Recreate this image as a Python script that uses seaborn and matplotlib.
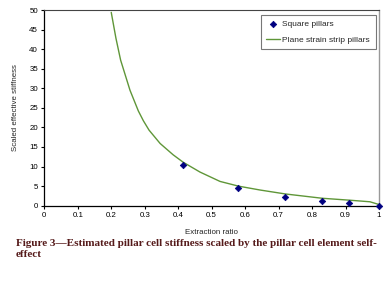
import matplotlib
matplotlib.use("Agg")
import matplotlib.pyplot as plt
import seaborn as sns
import pandas as pd

# Data
square_x = [0.413, 0.58, 0.719, 0.829, 0.911, 1.0]
square_y = [10.4, 4.4, 2.2, 1.2, 0.7, 0.0]

strip_x = [0.2, 0.214, 0.228, 0.256, 0.281, 0.296, 0.313, 0.346, 0.385, 0.415,
           0.465, 0.525, 0.58, 0.645, 0.72, 0.83, 0.913, 0.973, 1.0]
strip_y = [49.4, 42.8, 37.2, 29.5, 24.2, 21.7, 19.3, 15.9, 13.0, 11.1,
           8.6, 6.2, 5.0, 4.0, 3.0, 1.9, 1.4, 1.0, 0.3]

x_ticks = [0, 0.1, 0.2, 0.3, 0.4, 0.5, 0.6, 0.7, 0.8, 0.9, 1]
x_labels = ["0", "0.1", "0.2", "0.3", "0.4", "0.5", "0.6", "0.7", "0.8", "0.9", "1"]
y_ticks = [0, 5, 10, 15, 20, 25, 30, 35, 40, 45, 50]

sns.set_style("white")
plt.rcParams['font.family'] = ['Liberation Sans', 'DejaVu Sans']

df_sq = pd.DataFrame({"x": square_x, "y": square_y})
df_st = pd.DataFrame({"x": strip_x, "y": strip_y})

fig = plt.figure(figsize=(3.9, 2.82), dpi=100)
ax = fig.add_axes([0.1136, 0.2706, 0.8582, 0.6939])

sns.lineplot(data=df_st, x="x", y="y", ax=ax, color="#5f9638", linewidth=1.0,
             sort=False, label="Plane strain strip pillars", zorder=2)
sns.scatterplot(data=df_sq, x="x", y="y", ax=ax, color="#000080", marker="D",
                s=11, edgecolor="#000080", linewidth=0.5,
                label="Square pillars", zorder=3, clip_on=False)

ax.set_xlim(0, 1)
ax.set_ylim(0, 50)
ax.set_xticks(x_ticks)
ax.set_xticklabels(x_labels)
ax.set_yticks(y_ticks)
ax.tick_params(axis="both", labelsize=5.7, length=2.5, width=0.8,
               direction="out", colors="black", pad=2,
               bottom=True, left=True)
ax.set_xlabel("Extraction ratio", fontsize=5.7, labelpad=7)
ax.set_ylabel("Scaled effective stiffness", fontsize=5.7, labelpad=7)

for side in ["left", "bottom"]:
    ax.spines[side].set_color("black")
    ax.spines[side].set_linewidth(0.9)
ax.spines["top"].set_color("#444444")
ax.spines["top"].set_linewidth(0.8)
ax.spines["right"].set_color("#999999")
ax.spines["right"].set_linewidth(1.0)

handles, labels = ax.get_legend_handles_labels()
order = [labels.index("Square pillars"), labels.index("Plane strain strip pillars")]
leg = ax.legend([handles[i] for i in order], [labels[i] for i in order],
                loc="upper right", bbox_to_anchor=(0.995, 0.985),
                fontsize=6, frameon=True, fancybox=False,
                borderpad=0.7, handlelength=1.6, handletextpad=0.3,
                labelspacing=0.9, borderaxespad=0.2)
leg.get_frame().set_edgecolor("#555555")
leg.get_frame().set_linewidth(0.8)

fig.text(0.04, 0.152,
         "Figure 3\u2014Estimated pillar cell stiffness scaled by the pillar cell element self-\neffect",
         fontsize=8, fontweight="bold", family=["Liberation Serif", "DejaVu Serif"],
         color="#551a1a", ha="left", va="top", linespacing=1.2)

fig.savefig("out.png", dpi=100)
